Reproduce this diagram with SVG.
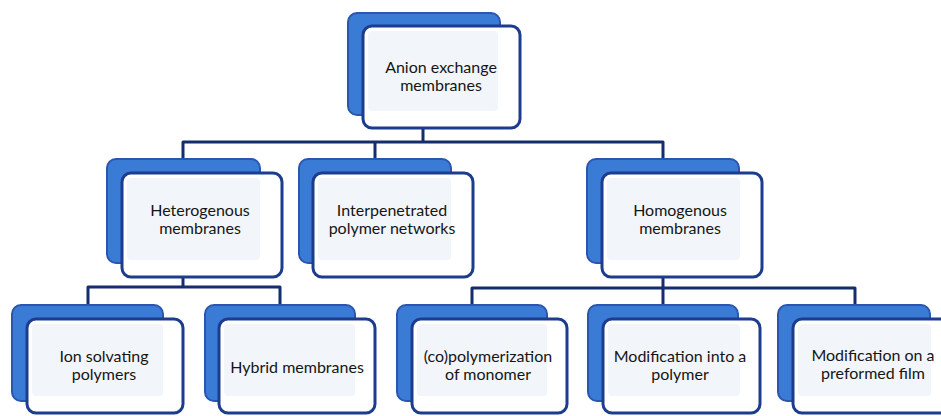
<svg xmlns="http://www.w3.org/2000/svg" width="941" height="416" viewBox="0 0 941 416">
<style>
.back{fill:#3a7bd5;stroke:#2a56b0;stroke-width:2}
.front{fill:#ffffff;stroke:#1c3c8e;stroke-width:3}
.inner{fill:#f2f5fa}
.conn{fill:none;stroke:#142d6b;stroke-width:3;stroke-linejoin:round}
text{font-family:Lato,"Noto Sans","Open Sans",sans-serif;font-size:16px;fill:#151515;text-anchor:middle}
</style>
<rect width="941" height="416" fill="#ffffff"/>
<g id="connectors">
<path class="conn" d="M423,128 V142"/>
<path class="conn" d="M183,159 V142 H663 V159"/>
<path class="conn" d="M375,142 V159"/>
<path class="conn" d="M183,277 V287"/>
<path class="conn" d="M88,305 V287 H280 V305"/>
<path class="conn" d="M663,277 V305"/>
<path class="conn" d="M472,305 V288 H855 V305"/>
</g>
<g id="n-anion">
<rect class="back" x="348" y="13" width="152" height="102" rx="9"/>
<rect class="front" x="363" y="26" width="157" height="102" rx="9"/>
<rect class="inner" x="368" y="31" width="130" height="80" rx="4"/>
<text x="441" y="73">Anion exchange</text>
<text x="441" y="91">membranes</text>
</g>
<g id="n-hetero">
<rect class="back" x="107" y="159" width="153" height="104" rx="9"/>
<rect class="front" x="122" y="173" width="160" height="104" rx="9"/>
<rect class="inner" x="127" y="178" width="133" height="82" rx="4"/>
<text x="200" y="216">Heterogenous</text>
<text x="200" y="234">membranes</text>
</g>
<g id="n-inter">
<rect class="back" x="299" y="159" width="152" height="104" rx="9"/>
<rect class="front" x="313" y="173" width="160" height="104" rx="9"/>
<rect class="inner" x="318" y="178" width="133" height="82" rx="4"/>
<text x="392" y="216">Interpenetrated</text>
<text x="392" y="234">polymer networks</text>
</g>
<g id="n-homo">
<rect class="back" x="587" y="159" width="152" height="104" rx="9"/>
<rect class="front" x="602" y="173" width="160" height="104" rx="9"/>
<rect class="inner" x="607" y="178" width="133" height="82" rx="4"/>
<text x="680" y="216">Homogenous</text>
<text x="680" y="234">membranes</text>
</g>
<g id="n-ion">
<rect class="back" x="12" y="305" width="151" height="96" rx="9"/>
<rect class="front" x="27" y="319" width="156" height="94" rx="9"/>
<rect class="inner" x="32" y="324" width="131" height="72" rx="4"/>
<text x="104" y="362">Ion solvating</text>
<text x="104" y="380">polymers</text>
</g>
<g id="n-hybrid">
<rect class="back" x="205" y="305" width="150" height="96" rx="9"/>
<rect class="front" x="219" y="319" width="156" height="94" rx="9"/>
<rect class="inner" x="224" y="324" width="131" height="72" rx="4"/>
<text x="297" y="373">Hybrid membranes</text>
</g>
<g id="n-copoly">
<rect class="back" x="397" y="305" width="150" height="96" rx="9"/>
<rect class="front" x="412" y="319" width="155" height="94" rx="9"/>
<rect class="inner" x="417" y="324" width="130" height="72" rx="4"/>
<text x="488" y="362">(co)polymerization</text>
<text x="488" y="380">of monomer</text>
</g>
<g id="n-modinto">
<rect class="back" x="588" y="305" width="150" height="96" rx="9"/>
<rect class="front" x="603" y="319" width="157" height="94" rx="9"/>
<rect class="inner" x="608" y="324" width="132" height="72" rx="4"/>
<text x="680" y="362">Modification into a</text>
<text x="680" y="380">polymer</text>
</g>
<g id="n-modon">
<rect class="back" x="778" y="305" width="152" height="96" rx="9"/>
<rect class="front" x="793" y="319" width="160" height="94" rx="9"/>
<rect class="inner" x="798" y="324" width="133" height="72" rx="4"/>
<text x="873" y="361">Modification on a</text>
<text x="873" y="379">preformed film</text>
</g>
</svg>
